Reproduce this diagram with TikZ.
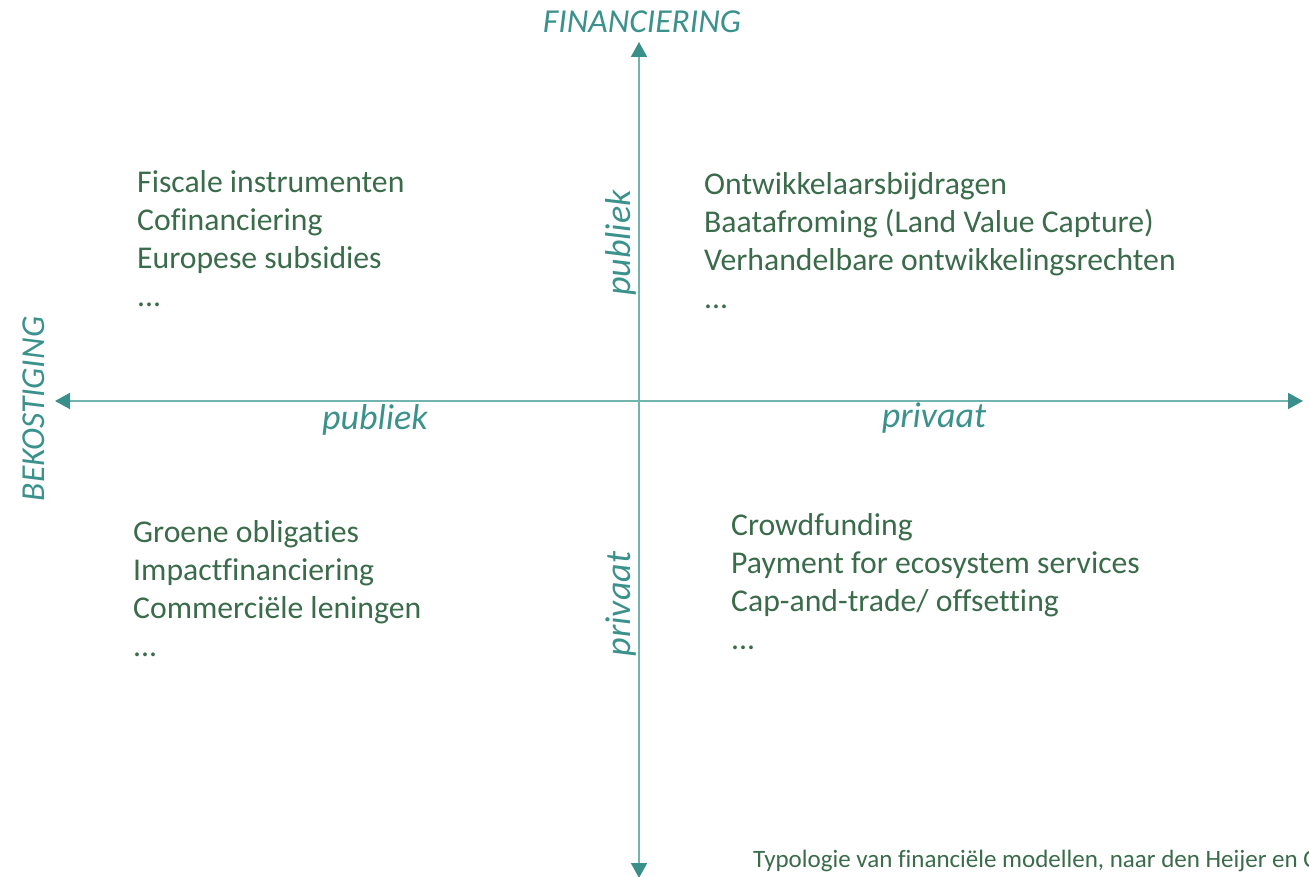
\documentclass[tikz,border=0pt]{standalone}
\usepackage{fontspec}
\setmainfont{Carlito}[Ligatures=NoCommon]
\usetikzlibrary{arrows.meta}
\definecolor{groen}{HTML}{3A6B4A}
\definecolor{kopkleur}{HTML}{3B918B}
\definecolor{aslijn}{HTML}{73B4AF}
\definecolor{pijl}{HTML}{3A8F8A}
\newcommand{\bronletter}{\fontsize{25}{28}\selectfont}
\begin{document}
\begin{tikzpicture}[x=1pt,y=-1pt]
        \tikzstyle{lijst}=[text=groen,font=\fontsize{31.7}{38}\selectfont,align=left,anchor=north west,inner sep=0pt]
        \tikzstyle{kop}=[text=kopkleur,font=\fontsize{33.5}{38}\selectfont\itshape,inner sep=0pt]
        \tikzstyle{richting}=[text=kopkleur,font=\fontsize{36}{40}\selectfont\itshape,inner sep=0pt]
        \tikzstyle{as}=[draw=aslijn,line width=2pt,{Triangle[length=15pt,width=16pt,color=pijl]}-{Triangle[length=15pt,width=16pt,color=pijl]}]
       \useasboundingbox (0,0) rectangle (1309,877);
       \begin{scope}
         \coordinate (links) at (55,401);
         \coordinate (rechts) at (1303,401);
         \coordinate (boven) at (639,42);
         \coordinate (onder) at (639,878);
         \path[as] (links) -- (rechts);
         \path[as] (onder) -- (boven);
         \node [kop] (fin) at (642,22) {FINANCIERING};
         \node [kop,rotate=90] (bek) at (34,409) {BEKOSTIGING};
         \node [richting,rotate=90] (vpub) at (621,243) {publiek};
         \node [richting,rotate=90] (vpriv) at (621,604) {privaat};
         \node [richting] (hpub) at (375,420) {publiek};
         \node [richting] (hpriv) at (934,418) {privaat};
         \node [lijst] (lb) at (137,170) {Fiscale instrumenten\\Cofinanciering\\Europese subsidies\\...};
         \node [lijst] (rb) at (704,172) {Ontwikkelaarsbijdragen\\Baatafroming (Land Value Capture)\\Verhandelbare ontwikkelingsrechten\\...};
         \node [lijst] (lo) at (133,520) {Groene obligaties\\Impactfinanciering\\Commerci\"ele leningen\\...};
         \node [lijst] (ro) at (731,513) {Crowdfunding\\Payment for ecosystem services\\Cap-and-trade/ offsetting\\...};
         \node [text=groen,font=\bronletter,anchor=base west,inner sep=0pt] (bron) at (753,867) {Typologie van financi\"ele modellen, naar den Heijer en C};
        \end{scope}
      \end{tikzpicture}
\end{document}
